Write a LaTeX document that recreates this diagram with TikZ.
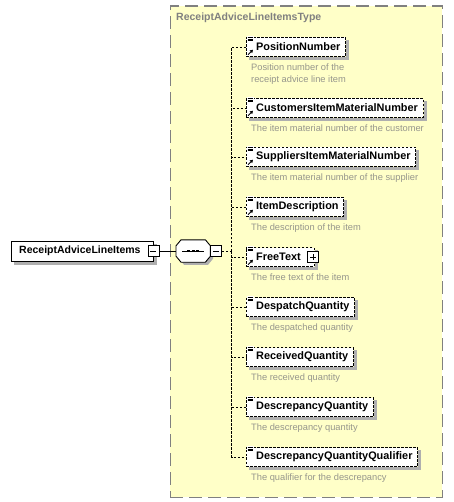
\documentclass[tikz,border=0pt]{standalone}
\usepackage{fontspec}
\setmainfont{Liberation Sans}
\usepackage{tikz}
\usetikzlibrary{arrows.meta,positioning}
\definecolor{typefill}{RGB}{255,255,200}
\definecolor{typeline}{RGB}{128,128,128}
\definecolor{boxshade}{RGB}{175,175,175}
\definecolor{descgray}{RGB}{150,150,140}

\begin{document}
\begin{tikzpicture}[
  x=1pt, y=-1pt,
  every node/.style={font=\fontsize{10.5}{12}\selectfont\bfseries},
  typebg/.style={draw=typeline, fill=typefill, line width=1.2pt, dash pattern=on 13pt off 6pt, anchor=north west},
  rootbox/.style={draw, fill=white, minimum height=20pt, inner xsep=8pt, inner ysep=0pt, text width=126pt, align=left},
  elem/.style={draw, dash pattern=on 2.5pt off 1.5pt, fill=white, minimum height=19pt, inner xsep=5pt, inner ysep=0pt,
    font=\fontsize{10.9}{12}\selectfont\bfseries, execute at begin node={\hspace*{5pt}}},
  seqbox/.style={minimum width=34pt, minimum height=22pt, inner sep=0pt},
  minusbox/.style={draw, fill=white, minimum size=11pt, inner sep=0pt,
    path picture={\draw ([xshift=2.5pt]path picture bounding box.west) -- ([xshift=-2.5pt]path picture bounding box.east);}},
  plusbox/.style={minusbox,
    path picture={
      \draw ([xshift=2.5pt]path picture bounding box.west) -- ([xshift=-2.5pt]path picture bounding box.east);
      \draw ([yshift=-2.5pt]path picture bounding box.north) -- ([yshift=2.5pt]path picture bounding box.south);
    }},
  shadowstrip/.style={fill=boxshade, draw=none},
  desc/.style={font=\fontsize{9.3}{12.3}\selectfont, text=descgray, align=left, inner sep=0pt},
  title/.style={text=typeline, inner sep=0pt},
  conn/.style={line width=0.9pt},
  optconn/.style={conn, dash pattern=on 2.5pt off 1.5pt}
]
  \useasboundingbox (0,0) rectangle (453,502);

  % Type box
  \node (typebox) [typebg, minimum width=272pt, minimum height=491pt] at (169.5,5.5) {};
  \node (typename) [title, anchor=west] at (176,17.5) {ReceiptAdviceLineItemsType};

  % Root and sequence
  \node (root) [rootbox, anchor=west] at (11,251) {ReceiptAdviceLineItems};
  \node (seq) [seqbox, anchor=west] at (176,251) {};

  % Elements
  \node (pn) [elem, anchor=west] at (246,47) {PositionNumber};
  \node (cust) [elem, below=61pt of pn.west, anchor=west] {CustomersItemMaterialNumber};
  \node (supp) [elem, below=49pt of cust.west, anchor=west] {SuppliersItemMaterialNumber};
  \node (itemd) [elem, below=50pt of supp.west, anchor=west] {ItemDescription};
  \node (freet) [elem, below=50pt of itemd.west, anchor=west] {FreeText\hspace*{8pt}};
  \node (desp) [elem, below=50pt of freet.west, anchor=west] {DespatchQuantity};
  \node (recv) [elem, below=50pt of desp.west, anchor=west] {ReceivedQuantity};
  \node (descr) [elem, below=50pt of recv.west, anchor=west] {DescrepancyQuantity};
  \node (qual) [elem, below=50pt of descr.west, anchor=west] {DescrepancyQuantityQualifier};

  % Shadows
  \foreach \n in {root,pn,cust,supp,itemd,freet,desp,recv,descr,qual} {
    \path[shadowstrip] ([shift={(3pt,-0.5pt)}]\n.south west) rectangle ([shift={(3.5pt,-3.5pt)}]\n.south east);
    \path[shadowstrip] ([shift={(0.5pt,-3pt)}]\n.north east) rectangle ([shift={(3.5pt,-3.5pt)}]\n.south east);
  }
  \path[shadowstrip] ([shift={(3pt,-3pt)}]seq.north west) ++(5pt,0pt) -- ++(24pt,0pt) -- ++(5pt,-6pt) -- ++(0pt,-10pt)
    -- ++(-5pt,-6pt) -- ++(-24pt,0pt) -- ++(-5pt,6pt) -- ++(0pt,10pt) -- cycle;

  % Sequence octagon and symbol
  \draw[conn, fill=white] ([xshift=5pt]seq.north west) -- ([xshift=-5pt]seq.north east)
    -- ([yshift=-6pt]seq.north east) -- ([yshift=6pt]seq.south east) -- ([xshift=-5pt]seq.south east)
    -- ([xshift=5pt]seq.south west) -- ([yshift=6pt]seq.south west) -- ([yshift=-6pt]seq.north west) -- cycle;
  \draw [conn] ([xshift=6pt]seq.west) -- ([xshift=-6pt]seq.east);
  \foreach \d in {-4.5,0,4.5}
    \fill ([shift={(\d pt-1.3pt,-1.3pt)}]seq.center) rectangle ++(2.6pt,2.6pt);

  % Expand/collapse boxes
  \node (rootminus) [minusbox] at (root.east) {};
  \node (seqminus) [minusbox, right=0pt of seq] {};
  \node (freetplus) [plusbox] at ([xshift=-1pt]freet.east) {};
  \coordinate (spine) at ([xshift=10pt]seqminus.east);

  % Descriptions
  \node (pnd) [desc, below right=7pt and 5pt of pn.south west] {Position number of the\\receipt advice line item};
  \node (custd) [desc, below right=7pt and 5pt of cust.south west] {The item material number of the customer};
  \node (suppd) [desc, below right=7pt and 5pt of supp.south west] {The item material number of the supplier};
  \node (itemdd) [desc, below right=7pt and 5pt of itemd.south west] {The description of the item};
  \node (freetd) [desc, below right=7pt and 5pt of freet.south west] {The free text of the item};
  \node (despd) [desc, below right=7pt and 5pt of desp.south west] {The despatched quantity};
  \node (recvd) [desc, below right=7pt and 5pt of recv.south west] {The received quantity};
  \node (descrd) [desc, below right=7pt and 5pt of descr.south west] {The descrepancy quantity};
  \node (quald) [desc, below right=7pt and 5pt of qual.south west] {The qualifier for the descrepancy};

  % Icons
  \foreach \n in {pn,cust,supp,itemd,freet,desp,recv,descr,qual} {
    \fill[white] ([shift={(1pt,1pt)}]\n.north west) rectangle ++(7pt,-6.5pt);
    \foreach \k in {0,1.7,3.4}
      \draw[line width=0.7pt] ([shift={(1.5pt,-\k pt)}]\n.north west) -- ++(5pt,0pt);
  }
  \foreach \n in {pn,cust,supp,itemd,freet}
    \draw[line width=0.9pt, -{Triangle[length=3pt,width=3.5pt]}] ([shift={(2pt,2pt)}]\n.south west) -- ++(5pt,5pt);

  % Paths
  \draw [conn] (rootminus) -- (seq);
  \draw [optconn] (seqminus.east) -- (spine);
  \foreach \n in {pn,cust,supp,itemd,freet,desp,recv,descr,qual}
    \draw [optconn] (spine) |- (\n.west);
\end{tikzpicture}
\end{document}
